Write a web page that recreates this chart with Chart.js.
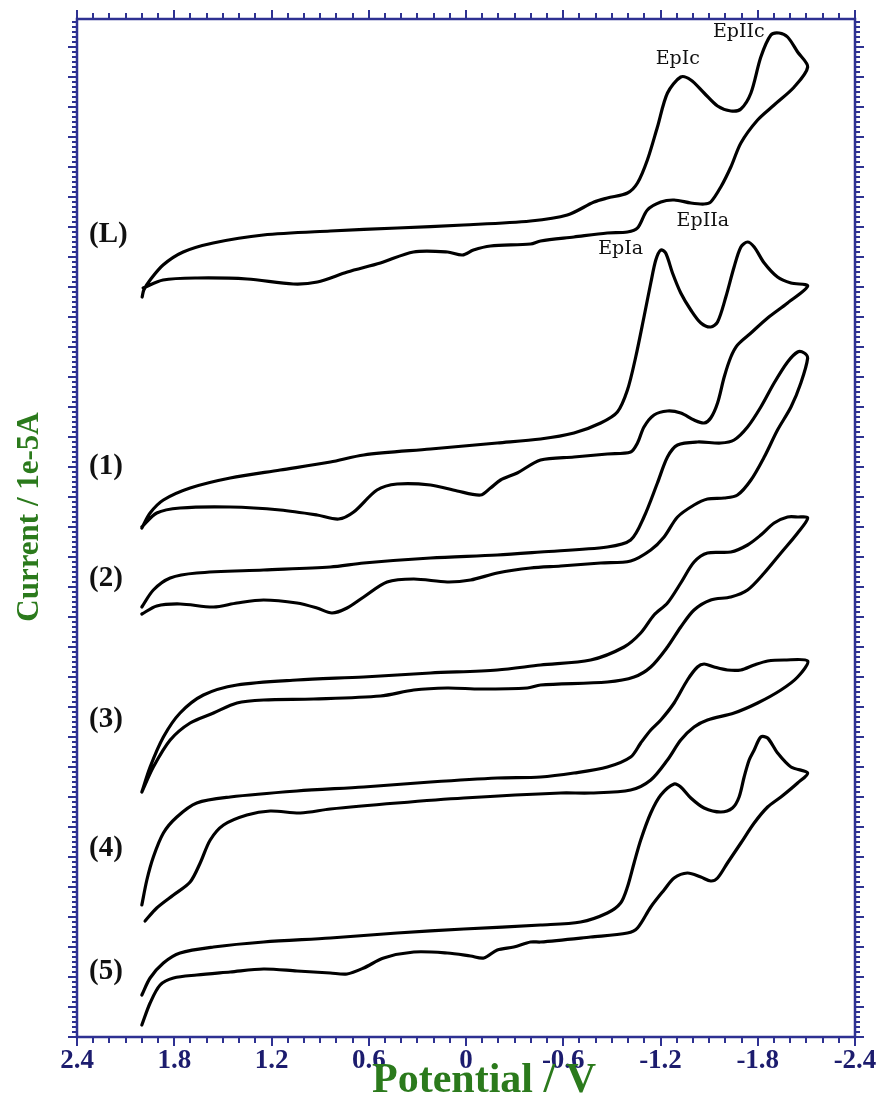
<!DOCTYPE html>
<html>
<head>
<meta charset="utf-8">
<script src="https://cdn.jsdelivr.net/npm/chart.js@4.4.1/dist/chart.umd.min.js"></script>
<style>
  html, body { margin: 0; padding: 0; background: #fff; }
  canvas { display: block; }
</style>
</head>
<body>
<canvas id="cvChart" width="877" height="1095"></canvas>
<script>
// potential axis labels (V)
const potTicks = [2.4, 1.8, 1.2, 0.6, 0, -0.6, -1.2, -1.8, -2.4];

// each curve: forward scan to -2.1 V, then the return scan (potential V / current, offset units)
const potL = [1.998, 1.988, 1.949, 1.869, 1.745, 1.560, 1.251, 0.837, 0.423, 0.015, -0.398, -0.625, -0.790, -0.872, -0.996, -1.058, -1.119, -1.181, -1.243, -1.325, -1.387, -1.469, -1.552, -1.634, -1.696, -1.758, -1.819, -1.881, -1.932, -1.984, -2.046, -2.108,
  -2.025, -1.901, -1.799, -1.696, -1.634, -1.572, -1.510, -1.469, -1.387, -1.284, -1.202, -1.119, -1.058, -0.996, -0.872, -0.666, -0.460, -0.398, -0.151, -0.046, 0.022, 0.114, 0.324, 0.528, 0.732, 0.917, 1.066, 1.350, 1.659, 1.869, 1.992];
const curL = [74.0, 74.7, 75.7, 77.2, 78.5, 79.4, 80.2, 80.6, 80.9, 81.2, 81.6, 82.2, 83.5, 83.9, 84.4, 85.4, 87.7, 91.0, 94.4, 96.0, 95.7, 94.4, 93.1, 92.6, 92.8, 94.4, 98.0, 100.2, 100.4, 100.0, 98.5, 97.0,
  95.0, 93.2, 91.7, 89.4, 87.0, 85.0, 83.5, 83.3, 83.4, 83.7, 83.5, 82.7, 80.9, 80.5, 80.4, 80.0, 79.6, 79.3, 79.1, 78.7, 78.2, 78.5, 78.5, 77.4, 76.5, 75.5, 75.3, 75.8, 75.9, 75.7, 74.9];

const pot1 = [2.000, 1.949, 1.867, 1.702, 1.455, 1.146, 0.837, 0.631, 0.219, -0.193, -0.460, -0.666, -0.831, -0.934, -0.996, -1.047, -1.098, -1.140, -1.171, -1.202, -1.232, -1.274, -1.325, -1.387, -1.449, -1.510, -1.552, -1.603, -1.654, -1.696, -1.737, -1.778, -1.840, -1.922, -2.005, -2.108,
  -1.984, -1.861, -1.758, -1.675, -1.634, -1.593, -1.552, -1.510, -1.469, -1.407, -1.325, -1.243, -1.160, -1.098, -1.058, -1.016, -0.872, -0.666, -0.460, -0.316, -0.213, -0.151, -0.090, 0.054, 0.219, 0.425, 0.549, 0.693, 0.786, 0.919, 1.146, 1.455, 1.764, 1.908, 2.000];
const cur1 = [50.9, 52.4, 53.7, 54.9, 55.9, 56.7, 57.5, 58.2, 58.8, 59.4, 59.8, 60.4, 61.4, 62.5, 64.7, 68.0, 72.0, 75.4, 77.7, 78.7, 78.4, 76.4, 74.4, 72.7, 71.4, 71.0, 71.5, 74.0, 77.0, 79.0, 79.5, 79.0, 77.4, 76.0, 75.4, 75.1,
  73.4, 71.9, 70.4, 69.2, 68.0, 66.0, 63.4, 61.9, 61.4, 61.7, 62.4, 62.6, 62.2, 61.0, 59.4, 58.5, 58.3, 58.0, 57.7, 56.4, 55.7, 54.9, 54.2, 54.6, 55.2, 55.3, 54.7, 52.5, 51.8, 52.2, 52.7, 53.0, 52.9, 52.4, 51.0];

const pot2 = [2.000, 1.929, 1.825, 1.661, 1.249, 0.837, 0.631, 0.219, -0.193, -0.460, -0.872, -1.016, -1.098, -1.181, -1.243, -1.305, -1.428, -1.572, -1.654, -1.737, -1.819, -1.901, -1.984, -2.046, -2.087, -2.108,
  -2.066, -2.005, -1.922, -1.840, -1.758, -1.675, -1.593, -1.490, -1.407, -1.305, -1.222, -1.140, -1.016, -0.831, -0.584, -0.398, -0.193, -0.028, 0.116, 0.322, 0.487, 0.631, 0.734, 0.827, 0.919, 1.043, 1.249, 1.413, 1.558, 1.764, 1.908, 2.000];
const cur2 = [43.0, 44.7, 45.9, 46.4, 46.7, 47.0, 47.4, 47.9, 48.2, 48.5, 49.0, 49.7, 52.0, 55.4, 58.0, 59.2, 59.5, 59.4, 59.7, 61.0, 63.0, 65.4, 67.5, 68.5, 68.4, 67.9,
  65.4, 63.0, 60.7, 58.0, 55.7, 54.2, 53.9, 53.8, 53.2, 52.0, 50.0, 48.7, 47.6, 47.4, 47.1, 46.9, 46.4, 45.7, 45.5, 45.8, 45.5, 44.0, 42.9, 42.4, 42.9, 43.4, 43.7, 43.4, 43.0, 43.3, 43.1, 42.3];

const pot3 = [2.000, 1.949, 1.867, 1.764, 1.620, 1.413, 1.043, 0.631, 0.219, -0.193, -0.460, -0.769, -0.975, -1.078, -1.160, -1.243, -1.325, -1.407, -1.490, -1.634, -1.737, -1.819, -1.901, -1.984, -2.046, -2.108,
  -2.046, -1.943, -1.840, -1.737, -1.634, -1.510, -1.407, -1.325, -1.243, -1.140, -1.037, -0.872, -0.460, -0.378, -0.090, 0.116, 0.322, 0.528, 0.940, 1.249, 1.413, 1.558, 1.702, 1.825, 1.929, 2.000];
const cur3 = [24.5, 27.0, 30.0, 32.4, 34.2, 35.2, 35.7, 36.0, 36.4, 36.7, 37.2, 37.7, 39.0, 40.4, 42.2, 43.4, 45.4, 47.5, 48.4, 48.5, 49.2, 50.2, 51.4, 52.0, 52.0, 51.9,
  50.4, 48.4, 46.4, 44.7, 44.0, 43.7, 42.7, 41.0, 39.0, 37.0, 36.0, 35.5, 35.2, 34.9, 34.8, 34.9, 34.7, 34.1, 33.8, 33.7, 33.4, 32.4, 31.4, 29.7, 27.0, 24.5];

const pot4 = [2.000, 1.969, 1.929, 1.867, 1.784, 1.661, 1.455, 1.043, 0.631, 0.219, -0.193, -0.460, -0.666, -0.872, -1.016, -1.078, -1.140, -1.202, -1.284, -1.366, -1.428, -1.469, -1.531, -1.613, -1.696, -1.778, -1.861, -1.963, -2.108,
  -2.046, -1.943, -1.799, -1.654, -1.490, -1.407, -1.325, -1.243, -1.140, -1.016, -0.769, -0.584, 0.014, 0.425, 0.837, 1.022, 1.208, 1.352, 1.496, 1.578, 1.640, 1.702, 1.805, 1.908, 1.980];
const cur4 = [13.2, 15.7, 18.0, 20.4, 22.0, 23.4, 24.0, 24.6, 25.0, 25.5, 25.9, 26.0, 26.4, 27.0, 28.0, 29.4, 30.7, 31.7, 33.4, 35.7, 37.0, 37.3, 37.0, 36.7, 36.7, 37.2, 37.6, 37.7, 37.6,
  36.0, 34.7, 33.4, 32.4, 31.7, 31.0, 29.7, 27.7, 25.7, 24.7, 24.4, 24.4, 23.9, 23.4, 22.8, 22.4, 22.6, 22.2, 21.2, 19.7, 17.4, 15.5, 14.2, 12.9, 11.6];

const pot5 = [2.000, 1.949, 1.867, 1.764, 1.558, 1.249, 0.837, 0.425, 0.014, -0.460, -0.707, -0.872, -0.954, -0.996, -1.037, -1.078, -1.140, -1.202, -1.284, -1.325, -1.387, -1.469, -1.572, -1.644, -1.685, -1.716, -1.747, -1.778, -1.819, -1.861, -1.922, -2.005, -2.108,
  -2.046, -1.943, -1.861, -1.778, -1.696, -1.613, -1.552, -1.510, -1.449, -1.366, -1.284, -1.222, -1.140, -1.058, -0.996, -0.769, -0.460, -0.398, -0.295, -0.193, -0.110, -0.028, 0.116, 0.322, 0.508, 0.631, 0.734, 0.837, 1.043, 1.249, 1.455, 1.661, 1.805, 1.887, 1.949, 2.000];
const cur5 = [4.2, 5.9, 7.4, 8.4, 9.0, 9.5, 9.9, 10.4, 10.8, 11.2, 11.5, 12.4, 13.4, 15.0, 17.4, 19.7, 22.4, 24.2, 25.3, 25.0, 23.9, 22.9, 22.5, 22.9, 24.0, 26.0, 27.7, 28.7, 30.0, 29.9, 28.4, 27.0, 26.4,
  25.4, 24.0, 23.0, 21.4, 19.4, 17.4, 15.9, 15.6, 16.0, 16.4, 15.9, 14.7, 13.0, 10.9, 10.4, 10.0, 9.5, 9.5, 9.0, 8.7, 7.9, 8.1, 8.4, 8.5, 7.9, 6.9, 6.3, 6.4, 6.6, 6.8, 6.5, 6.2, 5.9, 5.2, 3.4, 1.2];

// curve labels on the left, and peak labels on the (L) curve
const curveNames = ['(L)', '(1)', '(2)', '(3)', '(4)', '(5)'];
const nameCur = [80.2, 57.0, 45.8, 31.7, 18.8, 6.5];
const namePot = 2.326;
const peakNames = ['EpIIc', 'EpIc', 'EpIIa', 'EpIa'];
const peakPot = [-1.683, -1.307, -1.461, -0.954];
const peakCur = [100.5, 97.8, 81.6, 78.8];

const navy = '#2e3192';
const green = '#2b7a1c';

const curves = [[potL, curL], [pot1, cur1], [pot2, cur2], [pot3, cur3], [pot4, cur4], [pot5, cur5]];

// tick marks: every 0.1 V on x, every 0.5 unit on y
const potStep = [];
for (let k = -24; k <= 24; k++) potStep.push(k / 10);
const curStep = [];
for (let k = 0; k <= 203; k++) curStep.push(k / 2);

const isPotTick = v => potTicks.some(t => Math.abs(t - v) < 1e-6);

// frame and tick marks on all four sides
const frame = {
  id: 'frame',
  afterDraw(chart) {
    const { ctx, chartArea: a } = chart;
    ctx.save();
    ctx.strokeStyle = navy;
    ctx.lineWidth = 2;
    ctx.beginPath();
    potStep.forEach(v => {
      const px = Math.round(chart.scales.x.getPixelForValue(v));
      const len = isPotTick(v) ? 9 : 6;
      ctx.moveTo(px, a.bottom); ctx.lineTo(px, a.bottom + len);
      ctx.moveTo(px, a.top); ctx.lineTo(px, a.top - len);
    });
    curStep.forEach((v, k) => {
      const py = Math.round(chart.scales.y.getPixelForValue(v));
      const len = k % 6 === 0 ? 9 : 5;
      ctx.moveTo(a.left, py); ctx.lineTo(a.left - len, py);
      ctx.moveTo(a.right, py); ctx.lineTo(a.right + len, py);
    });
    ctx.stroke();
    ctx.lineWidth = 2.5;
    ctx.strokeRect(a.left, a.top, a.right - a.left, a.bottom - a.top);
    ctx.restore();
  }
};

// text labels and axis titles
const annotate = {
  id: 'annotate',
  afterDatasetsDraw(chart) {
    const { ctx, chartArea: a, scales: { x, y } } = chart;
    ctx.save();
    ctx.fillStyle = '#111';
    ctx.textBaseline = 'middle';
    ctx.textAlign = 'left';
    ctx.font = 'bold 29px "Liberation Serif"';
    curveNames.forEach((n, i) => ctx.fillText(n, x.getPixelForValue(namePot), y.getPixelForValue(nameCur[i])));
    ctx.textAlign = 'center';
    ctx.font = '19px "DejaVu Serif"';
    peakNames.forEach((n, i) => ctx.fillText(n, x.getPixelForValue(peakPot[i]), y.getPixelForValue(peakCur[i])));

    ctx.fillStyle = green;
    ctx.font = 'bold 42px "Liberation Serif"';
    ctx.fillText('Potential / V', a.left + 407, a.bottom + 44);
    ctx.translate(a.left - 47, a.top + 498);
    ctx.rotate(-Math.PI / 2);
    ctx.font = 'bold 31px "Liberation Serif"';
    ctx.fillText('Current / 1e-5A', 0, 0);
    ctx.restore();
  }
};

const ctx = document.getElementById('cvChart').getContext('2d');

new Chart(ctx, {
  type: 'line',
  data: {
    datasets: curves.map(([pot, cur]) => ({
      data: pot.map((p, i) => ({ x: p, y: cur[i] })),
      borderColor: '#000',
      borderWidth: 3.2,
      pointRadius: 0,
      tension: 0.3,
      fill: false,
      borderJoinStyle: 'round',
      borderCapStyle: 'round'
    }))
  },
  options: {
    responsive: false,
    animation: false,
    layout: { padding: 0 },
    plugins: {
      legend: { display: false },
      tooltip: { enabled: false }
    },
    scales: {
      x: {
        type: 'linear', position: 'bottom', reverse: true, min: -2.4, max: 2.4,
        grid: { display: false, drawTicks: true, tickLength: 8 },
        border: { display: false },
        ticks: {
          autoSkip: false, maxRotation: 0, padding: 0,
          color: '#1c1c6e',
          font: { family: 'Liberation Serif', weight: 'bold', size: 27 },
          callback: v => isPotTick(v) ? String(Math.round(v * 10) / 10 || 0) : ''
        },
        afterBuildTicks: s => { s.ticks = potStep.map(v => ({ value: v })); },
        afterFit: s => { s.height = 58; }
      },
      xTop: {
        type: 'linear', position: 'top', reverse: true, min: -2.4, max: 2.4,
        grid: { display: false, drawTicks: false },
        border: { display: false },
        ticks: { display: false },
        afterFit: s => { s.height = 19; }
      },
      y: {
        type: 'linear', position: 'left', min: 0, max: 101.8,
        grid: { display: false, drawTicks: false },
        border: { display: false },
        ticks: { display: false },
        afterFit: s => { s.width = 77; }
      },
      yRight: {
        type: 'linear', position: 'right', min: 0, max: 101.8,
        grid: { display: false, drawTicks: false },
        border: { display: false },
        ticks: { display: false },
        afterFit: s => { s.width = 22; }
      }
    }
  },
  plugins: [frame, annotate]
});
</script>
</body>
</html>
